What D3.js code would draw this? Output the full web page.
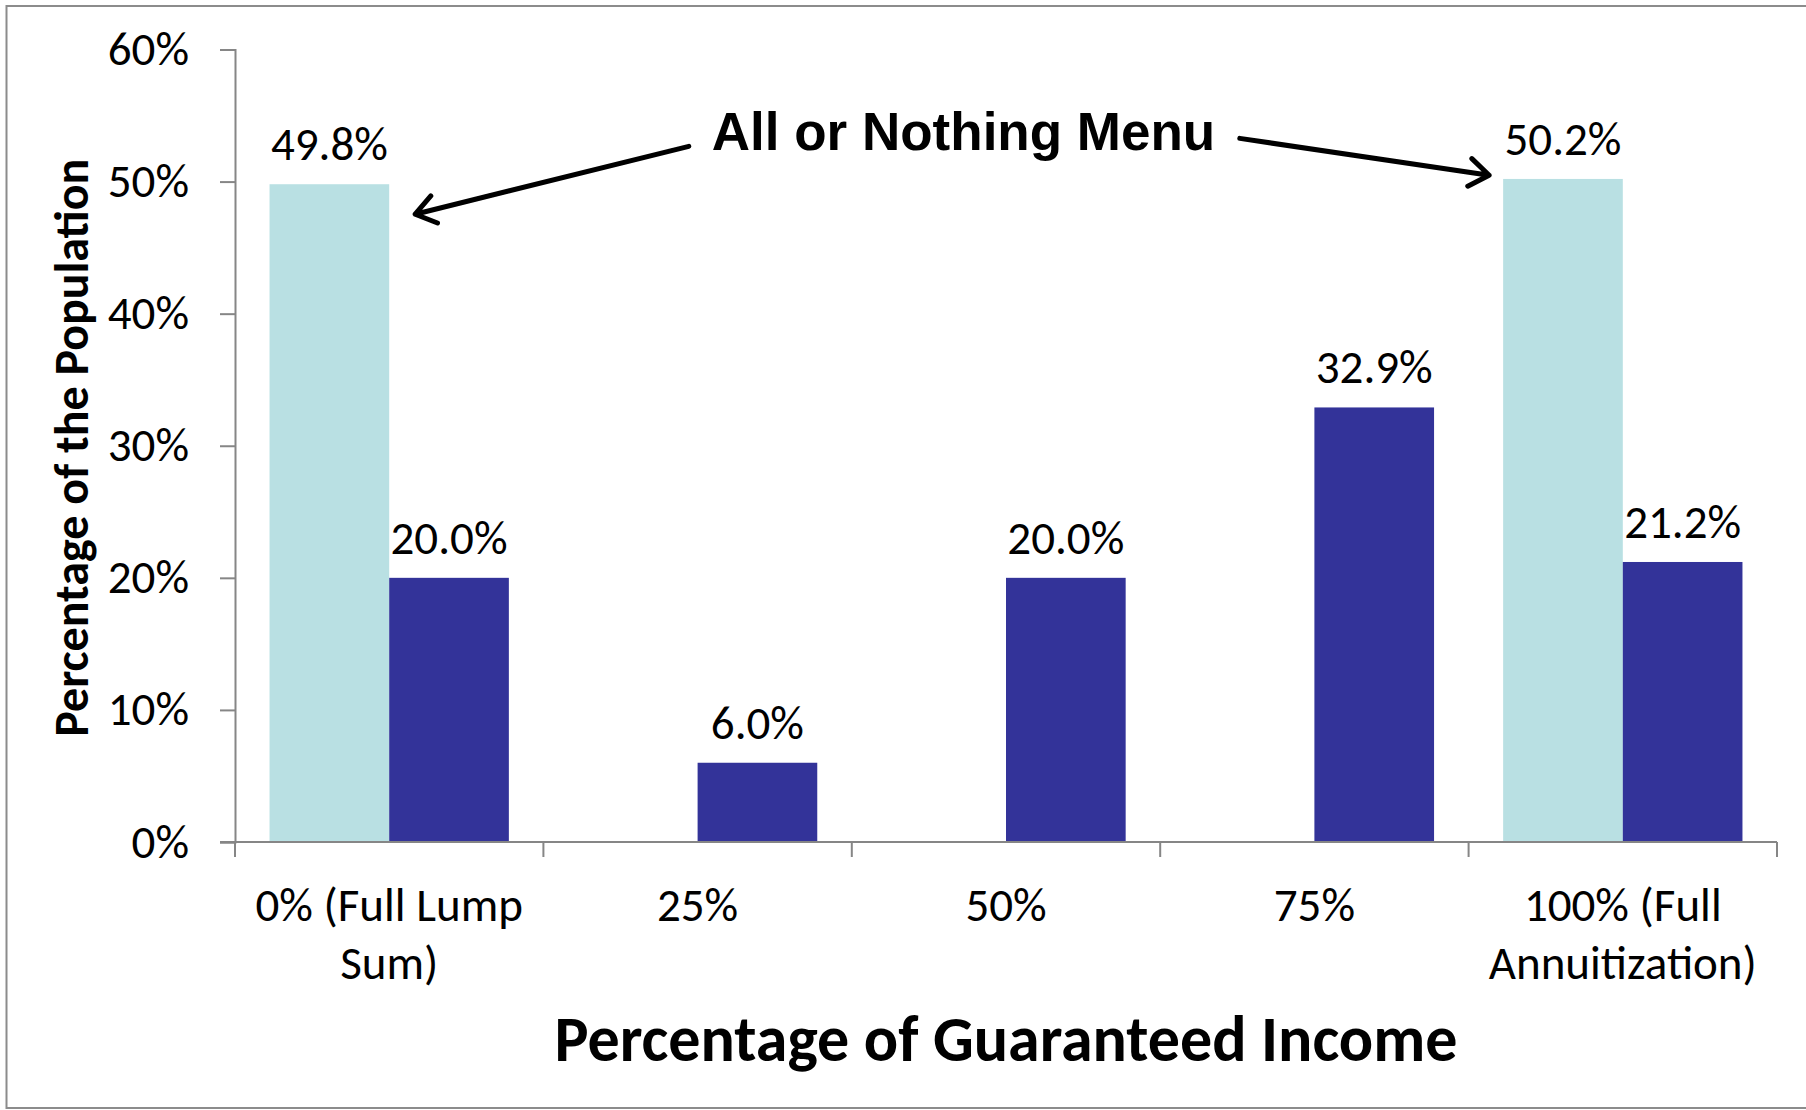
<!DOCTYPE html>
<html>
<head>
<meta charset="utf-8">
<script src="https://cdn.jsdelivr.net/npm/d3@7"></script>
<style>
  html, body { margin: 0; padding: 0; background: #fff; }
  svg { display: block; }
</style>
</head>
<body>
<svg id="chart" width="1806" height="1110"></svg>
<script>
// ---------------- DATA ----------------
const categories = ["0% (Full Lump Sum)", "25%", "50%", "75%", "100% (Full Annuitization)"];
const categoryLines = [["0% (Full Lump", "Sum)"], ["25%"], ["50%"], ["75%"], ["100% (Full", "Annuitization)"]];
const seriesNames = ["All or Nothing Menu", "Full Menu"];
const allOrNothingValues = [49.8, null, null, null, 50.2];
const fullMenuValues = [20.0, 6.0, 20.0, 32.9, 21.2];
const yTickValues = [0, 10, 20, 30, 40, 50, 60];
const xTitle = "Percentage of Guaranteed Income";
const yTitle = "Percentage of the Population";
const annotationText = "All or Nothing Menu";

// ---------------- STYLE ----------------
const colors = { "All or Nothing Menu": "#B9E0E3", "Full Menu": "#333399" };
const axisColor = "#868686";
const bodyFont = "Carlito, Lato, 'Open Sans', sans-serif";
const numSize = 47;

const svg = d3.select("#chart");
const W = 1806, H = 1110;

// outer frame (no right edge visible in reference)
svg.append("path")
  .attr("d", `M${W + 5},6 L6.5,6 L6.5,1108 L${W + 5},1108`)
  .attr("fill", "none").attr("stroke", "#8c8c8c").attr("stroke-width", 2);

const plot = { left: 235, right: 1777, top: 49.5, bottom: 842 };

const y = d3.scaleLinear().domain([0, 60]).range([plot.bottom, plot.top]);
const x0 = d3.scaleBand().domain(categories).range([plot.left, plot.right]).paddingInner(0).paddingOuter(0);
const bw = x0.bandwidth();
const gapFrac = 0.112;
const x1 = d3.scaleBand().domain(seriesNames).range([bw * gapFrac, bw * (1 - gapFrac)]).padding(0);

// flatten data
const rows = [];
categories.forEach((c, i) => {
  rows.push({ cat: c, series: seriesNames[0], value: allOrNothingValues[i] });
  rows.push({ cat: c, series: seriesNames[1], value: fullMenuValues[i] });
});
const present = rows.filter(d => d.value !== null);

// bars
svg.append("g").selectAll("rect").data(present).join("rect")
  .attr("x", d => x0(d.cat) + x1(d.series))
  .attr("width", x1.bandwidth())
  .attr("y", d => y(d.value))
  .attr("height", d => y(0) - y(d.value))
  .attr("fill", d => colors[d.series]);

// data labels
svg.append("g").selectAll("text").data(present).join("text")
  .attr("x", d => x0(d.cat) + x1(d.series) + x1.bandwidth() / 2)
  .attr("y", d => y(d.value) - 24)
  .attr("text-anchor", "middle")
  .attr("font-family", bodyFont)
  .attr("font-size", numSize)
  .attr("fill", "#000")
  .text(d => d.value.toFixed(1) + "%");

// y axis
const yAxis = d3.axisLeft(y).tickValues(yTickValues).tickSize(15).tickPadding(31)
  .tickFormat(d => d + "%");
const gy = svg.append("g").attr("transform", `translate(${plot.left},0)`).call(yAxis);
gy.select(".domain").attr("stroke", axisColor).attr("stroke-width", 2);
gy.selectAll(".tick line").attr("stroke", axisColor).attr("stroke-width", 2);
gy.selectAll(".tick text").attr("font-family", bodyFont).attr("font-size", numSize).attr("fill", "#000");

// x axis line and boundary ticks
const gx = svg.append("g");
gx.append("line")
  .attr("x1", plot.left - 15).attr("x2", plot.right)
  .attr("y1", y(0)).attr("y2", y(0))
  .attr("stroke", axisColor).attr("stroke-width", 2);
const boundaries = categories.map(c => x0(c)).concat([x0(categories[categories.length - 1]) + bw]);
gx.selectAll("line.tk").data(boundaries).join("line").attr("class", "tk")
  .attr("x1", d => d).attr("x2", d => d)
  .attr("y1", y(0)).attr("y2", y(0) + 15)
  .attr("stroke", axisColor).attr("stroke-width", 2);

// x category labels
const lab = gx.selectAll("text.cat").data(categories).join("text").attr("class", "cat")
  .attr("text-anchor", "middle")
  .attr("font-family", bodyFont)
  .attr("font-size", numSize)
  .attr("fill", "#000");
lab.each(function (c, i) {
  const t = d3.select(this);
  categoryLines[i].forEach((line, j) => {
    t.append("tspan")
      .attr("x", x0(c) + bw / 2)
      .attr("y", y(0) + 79 + j * 58)
      .text(line);
  });
});

// axis titles
svg.append("text")
  .attr("x", (plot.left + plot.right) / 2)
  .attr("y", 1061)
  .attr("text-anchor", "middle")
  .attr("font-family", bodyFont)
  .attr("font-weight", "bold")
  .attr("font-size", 64)
  .attr("fill", "#000")
  .text(xTitle);

svg.append("text")
  .attr("transform", `translate(88,${(plot.top + plot.bottom) / 2 + 2}) rotate(-90)`)
  .attr("text-anchor", "middle")
  .attr("font-family", bodyFont)
  .attr("font-weight", "bold")
  .attr("font-size", 48)
  .attr("fill", "#000")
  .text(yTitle);

// annotation
const annY = y(52.37);
const annX = x0(categories[2]) - 140;
svg.append("text")
  .attr("x", annX).attr("y", annY)
  .attr("font-family", "'Liberation Sans', Arial, sans-serif")
  .attr("font-weight", "bold")
  .attr("font-size", 53)
  .attr("fill", "#000")
  .text(annotationText);

function arrow(x1a, y1a, x2a, y2a) {
  const ang = Math.atan2(y2a - y1a, x2a - x1a);
  const L = 24, spread = 0.62;
  const p1 = [x2a - L * Math.cos(ang - spread), y2a - L * Math.sin(ang - spread)];
  const p2 = [x2a - L * Math.cos(ang + spread), y2a - L * Math.sin(ang + spread)];
  svg.append("path")
    .attr("d", `M${x1a},${y1a} L${x2a},${y2a} M${p1[0]},${p1[1]} L${x2a},${y2a} L${p2[0]},${p2[1]}`)
    .attr("fill", "none").attr("stroke", "#000").attr("stroke-width", 5)
    .attr("stroke-linecap", "round").attr("stroke-linejoin", "round");
}
// left arrow: from text start to the left "All or Nothing" bar
const leftBarRight = x0(categories[0]) + x1(seriesNames[0]) + x1.bandwidth();
arrow(annX - 23, y(52.67), leftBarRight + 26, y(47.53));
// right arrow: from text end to the right "All or Nothing" bar
const rightBarLeft = x0(categories[4]) + x1(seriesNames[0]);
arrow(annX + 528, y(53.27), rightBarLeft - 14, y(50.48));
</script>
</body>
</html>
